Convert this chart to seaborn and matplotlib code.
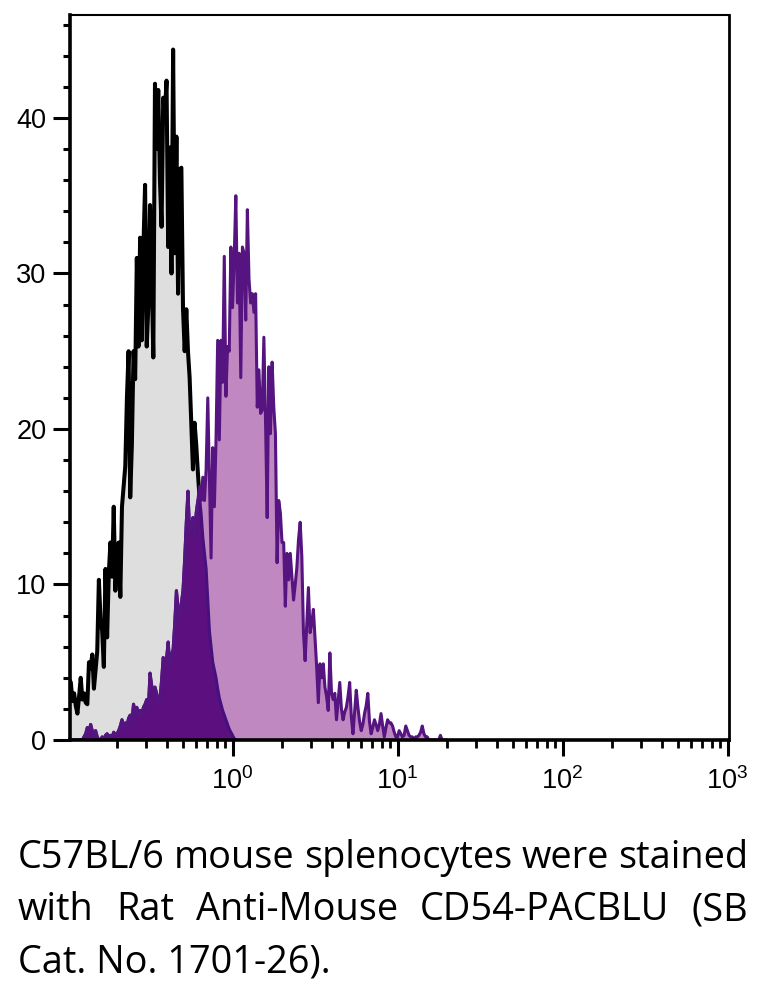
import numpy as np
import pandas as pd
import matplotlib
matplotlib.use("Agg")
import matplotlib.pyplot as plt
import seaborn as sns
from matplotlib.ticker import LogLocator, MultipleLocator, NullFormatter

# ---------------- data ----------------
# counts per channel; channels are spaced 0.01 in log10(intensity), starting at log10 = -1.00

# isotype / unstained control (black outline, grey fill)
control_counts = [
    3.0, 3.9, 3.7, 2.5, 3.0, 2.2, 1.7, 2.8, 4.0, 2.6,
    3.0, 2.4, 2.3, 5.0, 4.6, 5.5, 3.3, 4.5, 5.7, 10.3,
    7.8, 7.0, 4.7, 11.0, 6.6, 10.7, 12.7, 10.5, 15.0, 9.6,
    11.5, 12.7, 9.2, 15.0, 16.3, 17.6, 22.0, 25.0, 15.6, 19.0,
    25.0, 23.2, 31.0, 25.3, 32.3, 25.7, 31.7, 35.7, 25.3, 28.0,
    34.4, 30.0, 24.6, 42.2, 38.0, 41.8, 36.0, 33.0, 41.3, 40.3,
    42.4, 31.7, 38.1, 30.0, 44.4, 31.3, 38.8, 28.7, 36.7, 36.8,
    27.7, 25.0, 27.7, 25.0, 23.3, 20.4, 17.4, 20.4, 19.0, 17.2,
    15.6, 14.5, 13.0, 12.0, 11.0, 9.0, 7.0, 6.0, 5.0, 4.5,
    4.0, 3.3, 2.7, 2.3, 1.9, 1.6, 1.3, 1.0, 0.7, 0.5,
    0.3, 0.1, 0.0,
]

# CD54-PACBLU stained sample (purple outline, pink fill)
stained_counts = [
    0.0, 0.0, 0.0, 0.0, 0.0, 0.0, 0.0, 0.0, 0.0, 0.0,
    0.2, 0.4, 0.8, 0.5, 1.0, 0.6, 0.4, 0.6, 0.2, 0.0,
    0.0, 0.2, 0.0, 0.3, 0.4, 0.2, 0.3, 0.2, 0.5, 0.3,
    0.4, 0.6, 0.9, 1.3, 0.8, 1.1, 0.9, 1.4, 1.6, 1.2,
    2.3, 1.8, 2.1, 1.5, 1.9, 1.6, 2.1, 2.3, 2.6, 2.0,
    4.3, 3.5, 3.0, 3.4, 3.0, 2.4, 2.6, 3.8, 5.3, 4.7,
    5.2, 6.3, 4.7, 5.5, 5.8, 7.5, 9.6, 8.5, 7.9, 8.8,
    9.6, 11.6, 14.0, 16.0, 13.3, 13.7, 14.3, 12.9, 14.6, 15.4,
    16.3, 15.4, 16.9, 15.4, 17.4, 22.0, 16.7, 11.7, 18.8, 15.0,
    19.3, 25.7, 19.3, 25.7, 23.0, 31.1, 22.1, 25.3, 25.0, 31.7,
    27.8, 30.9, 35.0, 28.1, 31.3, 23.3, 31.7, 31.3, 27.0, 34.1,
    29.6, 28.1, 28.7, 27.5, 28.7, 21.4, 23.8, 21.0, 21.2, 25.9,
    20.6, 14.3, 24.0, 19.7, 24.3, 21.4, 19.7, 11.4, 15.4, 14.6,
    12.7, 12.7, 8.6, 12.0, 10.3, 12.0, 10.5, 9.0, 10.0, 11.1,
    12.9, 14.0, 11.8, 6.9, 5.1, 7.5, 9.8, 6.9, 7.5, 8.4,
    6.5, 4.7, 2.4, 4.9, 4.0, 4.9, 3.4, 2.8, 1.9, 5.6,
    3.0, 2.6, 3.0, 1.3, 2.5, 3.7, 2.0, 1.3, 1.8, 2.1,
    2.8, 3.7, 1.5, 0.4, 1.8, 3.2, 2.1, 1.2, 0.6, 1.0,
    1.7, 2.2, 3.0, 1.2, 0.4, 0.8, 1.3, 1.0, 0.6, 1.0,
    1.7, 0.9, 0.2, 0.8, 1.3, 1.1, 1.1, 0.9, 0.5, 0.2,
    0.2, 0.6, 0.4, 0.2, 0.3, 0.9, 0.6, 0.3, 0.2, 0.2,
    0.0, 0.2, 0.2, 0.3, 0.5, 0.9, 0.4, 0.2, 0.2, 0.0,
    0.0, 0.0, 0.0, 0.0, 0.0, 0.0, 0.3, 0.0, 0.0, 0.0,
    0.0,
]

log_start, log_step = -1.00, 0.01

y_ticks = [0, 10, 20, 30, 40]
x_major = [1, 10, 100, 1000]

caption_lines = [
    "C57BL/6 mouse splenocytes were stained",
    "with Rat Anti-Mouse CD54-PACBLU (SB",
    "Cat. No. 1701-26).",
]

# ---------------- styling ----------------
sns.set_theme(style="ticks")
plt.rcParams["font.family"] = ["Liberation Sans", "DejaVu Sans"]
plt.rcParams["mathtext.fontset"] = "custom"
plt.rcParams["mathtext.rm"] = "Liberation Sans"
plt.rcParams["mathtext.it"] = "Liberation Sans:italic"
plt.rcParams["mathtext.bf"] = "Liberation Sans:bold"
plt.rcParams["mathtext.default"] = "regular"

W, H = 760, 982
fig = plt.figure(figsize=(W / 100, H / 100), dpi=100)
ax = fig.add_axes([70 / W, 1 - 740 / H, 658.5 / W, 725 / H])
ax.set_facecolor("white")
ax.set_xscale("log")

n_all = len(stained_counts)
n_ctrl = len(control_counts)
log_x = np.round(log_start + log_step * np.arange(n_all), 2)
x_all = 10.0 ** log_x
ctrl_full = np.zeros(n_all)
ctrl_full[:n_ctrl] = control_counts
stain = np.array(stained_counts)
overlap = np.minimum(ctrl_full, stain)

df_ctrl = pd.DataFrame({"intensity": x_all[:n_ctrl], "count": control_counts})
df_stain = pd.DataFrame({"intensity": x_all, "count": stain})
df_overlap = pd.DataFrame({"intensity": x_all[:n_ctrl], "count": overlap[:n_ctrl]})

GREY = "#dedede"
PINK = "#c088c0"
DARK = "#5c1080"
PURPLE_LINE = "#561480"

ax.fill_between(x_all, 0, ctrl_full, color=GREY, linewidth=0, zorder=1)
sns.lineplot(data=df_ctrl, x="intensity", y="count", ax=ax, color="black",
             linewidth=2.9, estimator=None, sort=False, zorder=2)
ax.fill_between(x_all, 0, stain, color=PINK, linewidth=0, zorder=3)
ax.fill_between(x_all, 0, overlap, color=DARK, linewidth=0, zorder=4)
sns.lineplot(data=df_overlap, x="intensity", y="count", ax=ax, color="#46107e",
             linewidth=2.2, estimator=None, sort=False, zorder=5)
sns.lineplot(data=df_stain, x="intensity", y="count", ax=ax, color=PURPLE_LINE,
             linewidth=2.2, estimator=None, sort=False, zorder=6)

ax.set_xlim(10 ** -0.985, 10 ** 3.006)
ax.set_ylim(0, 46.62)
ax.set_xlabel("")
ax.set_ylabel("")

ax.set_xticks(x_major)
ax.xaxis.set_minor_locator(LogLocator(base=10, subs=np.arange(2, 10), numticks=40))
ax.xaxis.set_minor_formatter(NullFormatter())
ax.set_yticks(y_ticks)
ax.yaxis.set_minor_locator(MultipleLocator(2))

ax.tick_params(axis="both", which="both", direction="out", top=False, right=False,
               color="black", labelcolor="black")
ax.tick_params(axis="y", which="major", length=12, width=2.2, pad=5, labelsize=19.5)
ax.tick_params(axis="y", which="minor", length=5, width=2.2)
ax.tick_params(axis="x", which="major", length=11.5, width=2.2, pad=8, labelsize=19.5)
ax.tick_params(axis="x", which="minor", length=5.5, width=2.0)

for side, lw in [("left", 2.6), ("bottom", 2.6), ("top", 1.5), ("right", 2.0)]:
    ax.spines[side].set_visible(True)
    ax.spines[side].set_linewidth(lw)
    ax.spines[side].set_color("black")
    ax.spines[side].set_zorder(10)

# ---------------- caption (justified) ----------------
renderer = fig.canvas.get_renderer()
cap_font = ["Open Sans", "DejaVu Sans"]
left_px, right_px = 18.0, 748.0
probe = fig.text(0, 0, caption_lines[0], fontsize=20, family=cap_font)
w0 = probe.get_window_extent(renderer).width
probe.remove()
cap_fs = 20 * (right_px - left_px) / w0
baselines = [868, 920, 972]

for i, (line, base) in enumerate(zip(caption_lines, baselines)):
    yf = 1 - base / H
    if i < 2:
        words = line.split(" ")
        texts = [fig.text(0, yf, w, fontsize=cap_fs, family=cap_font,
                          va="baseline", ha="left", color="black") for w in words]
        widths = [t.get_window_extent(renderer).width for t in texts]
        gap = (right_px - left_px - sum(widths)) / (len(words) - 1)
        x = left_px
        for t, w in zip(texts, widths):
            t.set_x(x / W)
            x += w + gap
    else:
        fig.text(left_px / W, yf, line, fontsize=cap_fs, family=cap_font,
                 va="baseline", ha="left", color="black")

fig.savefig("out.png", dpi=100, facecolor="white")
